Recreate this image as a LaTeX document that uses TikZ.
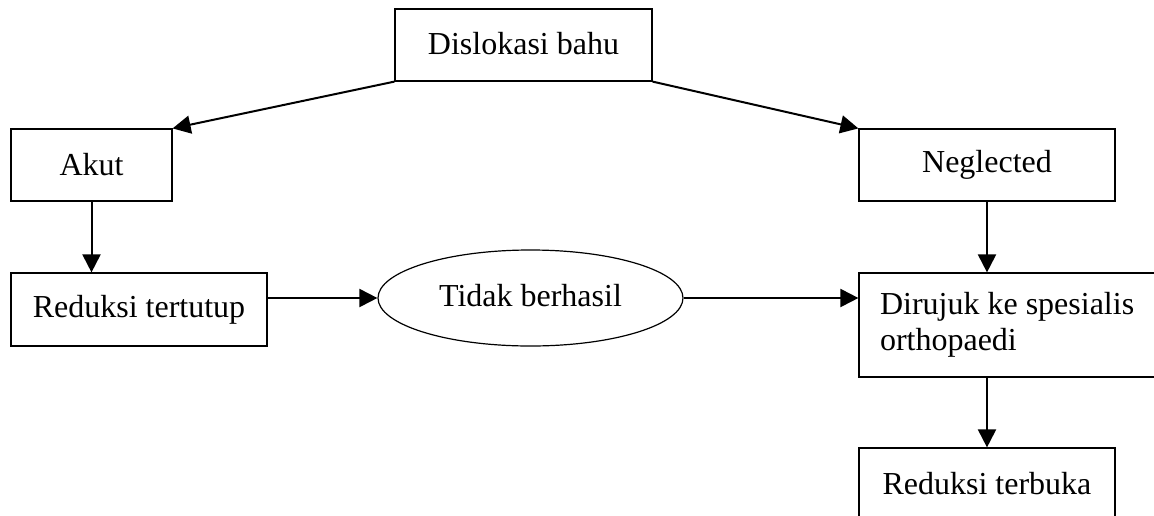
\documentclass[tikz,border=0pt]{standalone}
\usepackage{fontspec}
\setmainfont{Liberation Serif}
\usetikzlibrary{arrows.meta,shapes.geometric}
\begin{document}
\begin{tikzpicture}[x=1pt, y=-1pt,
  every node/.style={font=\fontsize{32}{36}\selectfont},
  kotak/.style={draw, line width=1.2pt, inner sep=0pt, minimum height=72pt},
  panah/.style={-{Triangle[length=18pt,width=18pt]}, line width=2pt}]
\useasboundingbox (0,0) rectangle (1154,515);
\clip (0,0) rectangle (1154,515);
\node[kotak, minimum width=257pt] (db) at (523.5,45) {\raisebox{4pt}{Dislokasi bahu}};
\node[kotak, minimum width=161pt] (ak) at (91.5,165) {Akut};
\node[kotak, minimum width=256pt] (ng) at (987,165) {Neglected};
\node[kotak, minimum width=256pt, minimum height=73pt] (rt) at (139,309.5) {Reduksi tertutup};
\node[draw, ellipse, line width=1.2pt, inner sep=0pt, minimum width=305pt, minimum height=96pt] (tb) at (530.5,298) {\raisebox{6pt}{Tidak berhasil}};
\node[kotak, minimum width=310pt, minimum height=104pt, inner xsep=21pt, text width=268pt, align=flush left] (dr) at (1014,325) {Dirujuk ke spesialis\\orthopaedi};
\node[kotak, minimum width=256pt] (rb) at (987,484) {Reduksi terbuka};
\draw[panah] (db.south west) -- (ak.north east);
\draw[panah] (db.south east) -- (ng.north west);
\draw[panah] (ak) -- (ak |- rt.north);
\draw[panah] (ng) -- (ng |- dr.north);
\draw[panah] (tb.west -| rt.east) -- (tb.west);
\draw[panah] (tb.east) -- (tb.east -| dr.west);
\draw[panah] (dr.south -| rb.north) -- (rb.north);
\end{tikzpicture}
\end{document}
